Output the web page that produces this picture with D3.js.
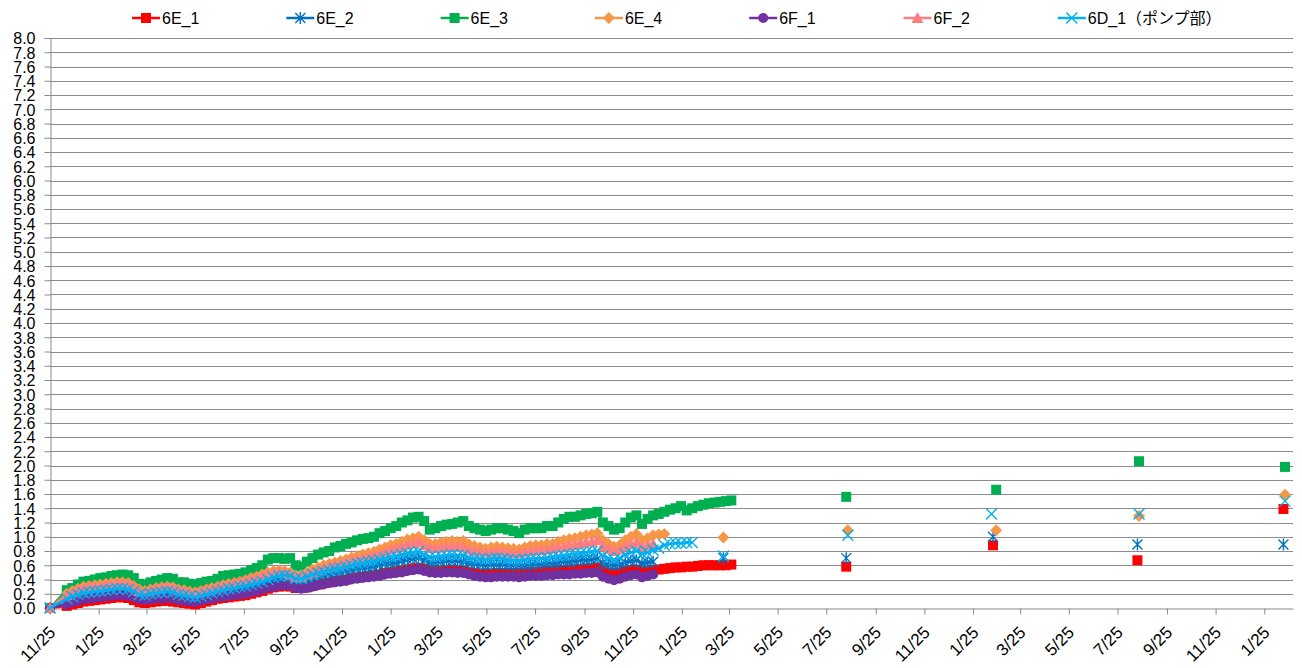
<!DOCTYPE html>
<html>
<head>
<meta charset="utf-8">
<script src="https://cdn.jsdelivr.net/npm/d3@7"></script>
<style>
body { margin: 0; background: #fff; }
text { font-family: "Liberation Sans", "Noto Sans CJK JP", sans-serif; fill: #000; }
</style>
</head>
<body>
<svg id="chart"></svg>
<script>
// Chart size
const width = 1302;
const height = 668;

// Dense record: first reading, then one reading a week
const firstDate = "2011-11-25";
const weeklyStart = "2011-12-16";
const weekStep = 7;

// Axis range and ticks
const xMin = "2011-11-25";
const xMax = "2016-03-01";
const xTickCount = 26; // one every two months
const yMax = 8.0;
const yStep = 0.2;

// Weekly values (k = 0 is the first reading)
const e1Dense = [0,
  0.03,0.05,0.07,0.09,0.10,0.11,0.12,0.13,0.14,
  0.15,0.15,0.14,0.11,0.08,0.07,0.08,0.09,0.10,0.10,
  0.09,0.08,0.07,0.06,0.05,0.07,0.09,0.11,0.13,0.14,
  0.15,0.16,0.17,0.18,0.20,0.22,0.24,0.27,0.29,0.30,
  0.31,0.30,0.28,0.28,0.29,0.31,0.33,0.35,0.36,0.38,
  0.39,0.40,0.42,0.43,0.44,0.45,0.46,0.47,0.49,0.50,
  0.51,0.52,0.54,0.55,0.56,0.55,0.53,0.52,0.52,0.53,
  0.53,0.52,0.52,0.50,0.49,0.48,0.48,0.48,0.49,0.49,
  0.49,0.49,0.49,0.50,0.50,0.51,0.51,0.52,0.52,0.53,
  0.53,0.54,0.54,0.55,0.55,0.56,0.57,0.52,0.50,0.49,
  0.50,0.52,0.53,0.54,0.51,0.52,0.53,0.54,0.55,0.56,
  0.57,0.57,0.58,0.58,0.59,0.60,0.60,0.60,0.60,0.60,
  0.61];

const e2Dense = [0,
  0.10,0.13,0.15,0.17,0.18,0.19,0.20,0.21,0.22,
  0.23,0.23,0.22,0.19,0.16,0.15,0.16,0.17,0.18,0.19,
  0.18,0.16,0.15,0.13,0.12,0.14,0.16,0.18,0.20,0.22,
  0.23,0.24,0.26,0.27,0.29,0.31,0.33,0.36,0.38,0.40,
  0.41,0.40,0.37,0.37,0.39,0.42,0.44,0.46,0.48,0.49,
  0.50,0.52,0.53,0.55,0.56,0.57,0.58,0.60,0.62,0.63,
  0.64,0.66,0.68,0.69,0.70,0.67,0.64,0.64,0.65,0.66,
  0.66,0.66,0.65,0.63,0.62,0.61,0.60,0.61,0.61,0.61,
  0.60,0.60,0.60,0.60,0.61,0.62,0.62,0.63,0.63,0.64,
  0.65,0.65,0.66,0.67,0.67,0.68,0.69,0.63,0.61,0.60,
  0.61,0.64,0.66,0.67,0.63,0.64,0.65];

const e3Dense = [0,
  0.25,0.28,0.33,0.37,0.38,0.40,0.42,0.43,0.45,
  0.46,0.47,0.46,0.42,0.34,0.33,0.36,0.38,0.40,0.42,
  0.41,0.36,0.36,0.34,0.33,0.35,0.37,0.38,0.41,0.45,
  0.46,0.47,0.48,0.50,0.53,0.56,0.60,0.68,0.70,0.70,
  0.69,0.70,0.60,0.58,0.65,0.70,0.75,0.78,0.80,0.85,
  0.87,0.90,0.92,0.95,0.97,0.98,1.00,1.05,1.08,1.12,
  1.15,1.20,1.23,1.27,1.28,1.22,1.10,1.12,1.15,1.17,
  1.18,1.20,1.22,1.15,1.12,1.10,1.08,1.10,1.12,1.12,
  1.10,1.08,1.05,1.10,1.12,1.12,1.12,1.15,1.15,1.20,
  1.25,1.28,1.28,1.30,1.32,1.33,1.35,1.20,1.15,1.10,
  1.12,1.20,1.27,1.30,1.18,1.25,1.30,1.32,1.35,1.38,
  1.40,1.43,1.37,1.40,1.43,1.45,1.47,1.48,1.49,1.50,
  1.51];

const e4Dense = [0,
  0.20,0.24,0.27,0.30,0.31,0.32,0.33,0.34,0.35,
  0.36,0.36,0.35,0.31,0.26,0.24,0.26,0.28,0.29,0.30,
  0.29,0.26,0.25,0.23,0.22,0.24,0.26,0.28,0.30,0.32,
  0.34,0.35,0.37,0.39,0.42,0.44,0.47,0.50,0.52,0.53,
  0.52,0.50,0.45,0.46,0.50,0.54,0.57,0.60,0.62,0.64,
  0.66,0.68,0.71,0.73,0.75,0.77,0.79,0.82,0.85,0.88,
  0.90,0.93,0.96,0.98,1.00,0.95,0.90,0.90,0.92,0.93,
  0.94,0.93,0.94,0.89,0.87,0.85,0.83,0.85,0.86,0.85,
  0.84,0.83,0.82,0.85,0.87,0.88,0.88,0.90,0.90,0.93,
  0.95,0.97,0.98,1.00,1.02,1.03,1.05,0.95,0.90,0.86,
  0.88,0.95,1.00,1.04,0.95,0.98,1.02,1.03,1.04];

const f1Dense = [0,
  0.05,0.08,0.10,0.12,0.13,0.14,0.15,0.16,0.17,
  0.18,0.18,0.17,0.15,0.12,0.11,0.12,0.13,0.13,0.14,
  0.13,0.11,0.10,0.09,0.08,0.10,0.12,0.13,0.15,0.16,
  0.17,0.18,0.19,0.20,0.22,0.24,0.26,0.28,0.30,0.31,
  0.32,0.31,0.28,0.27,0.28,0.30,0.32,0.33,0.35,0.36,
  0.37,0.38,0.40,0.41,0.42,0.43,0.44,0.45,0.47,0.48,
  0.49,0.50,0.52,0.53,0.54,0.52,0.50,0.49,0.49,0.50,
  0.50,0.49,0.49,0.47,0.45,0.44,0.43,0.43,0.44,0.44,
  0.44,0.44,0.43,0.44,0.45,0.45,0.45,0.46,0.46,0.47,
  0.47,0.47,0.48,0.48,0.49,0.49,0.50,0.44,0.41,0.39,
  0.41,0.44,0.46,0.47,0.43,0.45,0.47];

const f2Dense = [0,
  0.18,0.22,0.25,0.28,0.29,0.30,0.31,0.32,0.33,
  0.34,0.34,0.33,0.29,0.24,0.23,0.25,0.27,0.28,0.29,
  0.28,0.25,0.24,0.22,0.21,0.23,0.25,0.27,0.29,0.31,
  0.33,0.34,0.36,0.38,0.40,0.42,0.45,0.47,0.49,0.50,
  0.49,0.47,0.43,0.43,0.47,0.50,0.53,0.56,0.58,0.60,
  0.62,0.64,0.66,0.68,0.70,0.72,0.74,0.76,0.79,0.82,
  0.84,0.86,0.89,0.91,0.93,0.88,0.84,0.84,0.85,0.86,
  0.87,0.86,0.86,0.82,0.80,0.79,0.78,0.79,0.80,0.79,
  0.78,0.77,0.77,0.79,0.80,0.81,0.81,0.82,0.83,0.85,
  0.86,0.88,0.89,0.91,0.92,0.93,0.95,0.87,0.83,0.80,
  0.82,0.87,0.90,0.92,0.86,0.88,0.90];

const d1Dense = [0,
  0.13,0.16,0.19,0.21,0.22,0.23,0.24,0.25,0.26,
  0.27,0.27,0.26,0.23,0.19,0.18,0.20,0.21,0.22,0.23,
  0.22,0.19,0.18,0.16,0.15,0.17,0.19,0.21,0.23,0.25,
  0.27,0.28,0.30,0.31,0.33,0.35,0.37,0.40,0.43,0.45,
  0.46,0.45,0.41,0.41,0.44,0.47,0.49,0.51,0.53,0.55,
  0.56,0.58,0.60,0.62,0.63,0.65,0.66,0.68,0.70,0.72,
  0.73,0.75,0.77,0.78,0.79,0.75,0.72,0.72,0.73,0.74,
  0.75,0.74,0.74,0.71,0.70,0.69,0.68,0.69,0.70,0.69,
  0.68,0.67,0.67,0.68,0.69,0.70,0.70,0.71,0.72,0.73,
  0.74,0.75,0.76,0.77,0.78,0.79,0.80,0.73,0.70,0.68,
  0.70,0.75,0.78,0.80,0.76,0.78,0.81,0.84,0.88,0.90,
  0.91,0.91,0.92,0.92];

// Later single readings [date, value]
const e1Single = [["2014-08-19",0.58],["2015-02-19",0.88],["2015-08-19",0.67],["2016-02-18",1.39]];
const e2Single = [["2014-03-18",0.70],["2014-08-19",0.70],["2015-02-19",1.00],["2015-08-19",0.89],["2016-02-18",0.89]];
const e3Single = [["2014-08-19",1.56],["2015-02-23",1.66],["2015-08-21",2.06],["2016-02-20",1.98]];
const e4Single = [["2014-03-18",0.99],["2014-08-21",1.09],["2015-02-23",1.09],["2015-08-21",1.29],["2016-02-20",1.59]];
const f1Single = [];
const f2Single = [];
const d1Single = [["2014-03-18",0.73],["2014-08-21",1.02],["2015-02-17",1.32],["2015-08-21",1.32],["2016-02-20",1.50]];

const seriesNames = ["6E_1", "6E_2", "6E_3", "6E_4", "6F_1", "6F_2", "6D_1（ポンプ部）"];
const seriesColors = ["#FF0000", "#0070C0", "#00B050", "#F79646", "#7030A0", "#FF7C80", "#00B0F0"];
const seriesMarkers = ["square", "asterisk", "square", "diamond", "circle", "triangle", "cross"];
const denseValues = [e1Dense, e2Dense, e3Dense, e4Dense, f1Dense, f2Dense, d1Dense];
const singleValues = [e1Single, e2Single, e3Single, e4Single, f1Single, f2Single, d1Single];

const parse = d3.timeParse("%Y-%m-%d");

function denseDate(k) {
  if (k === 0) return parse(firstDate);
  return d3.timeDay.offset(parse(weeklyStart), weekStep * (k - 1));
}

const series = seriesNames.map((name, i) => ({
  name: name,
  color: seriesColors[i],
  marker: seriesMarkers[i],
  dense: denseValues[i].map((v, k) => ({ date: denseDate(k), value: v })),
  single: singleValues[i].map(d => ({ date: parse(d[0]), value: d[1] }))
}));

// Scales
const margin = { left: 50, right: 9, top: 38, bottom: 60 };
const x = d3.scaleTime()
  .domain([parse(xMin), parse(xMax)])
  .range([margin.left, width - margin.right]);
const y = d3.scaleLinear()
  .domain([0, yMax])
  .range([height - margin.bottom, margin.top]);

const svg = d3.select("#chart")
  .attr("width", width)
  .attr("height", height);

// Horizontal gridlines
const yTicks = d3.range(0, Math.round(yMax / yStep) + 1).map(i => +(i * yStep).toFixed(1));
svg.append("g")
  .selectAll("line")
  .data(yTicks.filter(d => d > 0))
  .join("line")
  .attr("x1", margin.left)
  .attr("x2", width - margin.right)
  .attr("y1", d => Math.round(y(d)) + 0.5)
  .attr("y2", d => Math.round(y(d)) + 0.5)
  .attr("stroke", "#8c8c8c")
  .attr("stroke-width", 1);

// Y axis
const yAxis = svg.append("g")
  .attr("transform", `translate(${margin.left + 0.5},0)`)
  .call(d3.axisLeft(y).tickValues(yTicks).tickFormat(d3.format(".1f")).tickSize(6).tickPadding(9));
yAxis.select(".domain").attr("stroke", "#8a8a8a");
yAxis.selectAll(".tick line").attr("stroke", "#8a8a8a");
yAxis.selectAll("text").style("font-size", "16px").attr("dy", "0.36em");

// X axis
const xTicks = d3.range(xTickCount).map(i => d3.timeMonth.offset(parse(xMin), 2 * i));
const xAxis = svg.append("g")
  .attr("transform", `translate(0,${Math.round(y(0)) + 0.5})`)
  .call(d3.axisBottom(x).tickValues(xTicks).tickFormat(d3.timeFormat("%-m/%-d")).tickSize(6).tickSizeOuter(0));
xAxis.select(".domain").attr("stroke", "#8a8a8a");
xAxis.selectAll(".tick line").attr("stroke", "#8a8a8a");
xAxis.selectAll("text")
  .style("font-size", "17px")
  .attr("text-anchor", "end")
  .attr("x", 0)
  .attr("y", 0)
  .attr("dy", 0)
  .attr("transform", "translate(6,25) rotate(-45)");

// Marker shapes
function markerPath(type) {
  switch (type) {
    case "square": return "M-5,-5H5V5H-5Z";
    case "diamond": return "M0,-6L6,0L0,6L-6,0Z";
    case "circle": return "M-5,0A5,5 0 1,0 5,0A5,5 0 1,0 -5,0Z";
    case "triangle": return "M0,-6L6,5L-6,5Z";
    case "asterisk": return "M0,-6V6M-5,-5L5,5M-5,5L5,-5";
    case "cross": return "M-5.5,-5.5L5.5,5.5M-5.5,5.5L5.5,-5.5";
  }
}
const strokeMarkers = ["asterisk", "cross"];

function drawMarkers(g, s, data) {
  g.selectAll(null)
    .data(data)
    .join("path")
    .attr("transform", d => `translate(${x(d.date)},${y(d.value)})`)
    .attr("d", markerPath(s.marker))
    .attr("fill", strokeMarkers.includes(s.marker) ? "none" : s.color)
    .attr("stroke", strokeMarkers.includes(s.marker) ? s.color : "none")
    .attr("stroke-width", 1.4);
}

const line = d3.line().x(d => x(d.date)).y(d => y(d.value));

series.forEach(s => {
  const g = svg.append("g");
  g.append("path")
    .datum(s.dense)
    .attr("d", line)
    .attr("fill", "none")
    .attr("stroke", s.color)
    .attr("stroke-width", 2.5);
  drawMarkers(g, s, s.dense);
  drawMarkers(g, s, s.single);
});

// Legend
const legendX = 132;
const legendStep = 154.3;
const legendY = 18;
series.forEach((s, i) => {
  const lx = legendX + legendStep * i;
  const g = svg.append("g");
  g.append("line")
    .attr("x1", lx).attr("x2", lx + 28)
    .attr("y1", legendY).attr("y2", legendY)
    .attr("stroke", s.color)
    .attr("stroke-width", 2.5);
  g.append("path")
    .attr("transform", `translate(${lx + 14},${legendY})`)
    .attr("d", markerPath(s.marker))
    .attr("fill", strokeMarkers.includes(s.marker) ? "none" : s.color)
    .attr("stroke", strokeMarkers.includes(s.marker) ? s.color : "none")
    .attr("stroke-width", 1.4);
  g.append("text")
    .attr("x", lx + 30)
    .attr("y", legendY)
    .attr("dy", "0.36em")
    .style("font-size", "16px")
    .text(s.name);
});
</script>
</body>
</html>
